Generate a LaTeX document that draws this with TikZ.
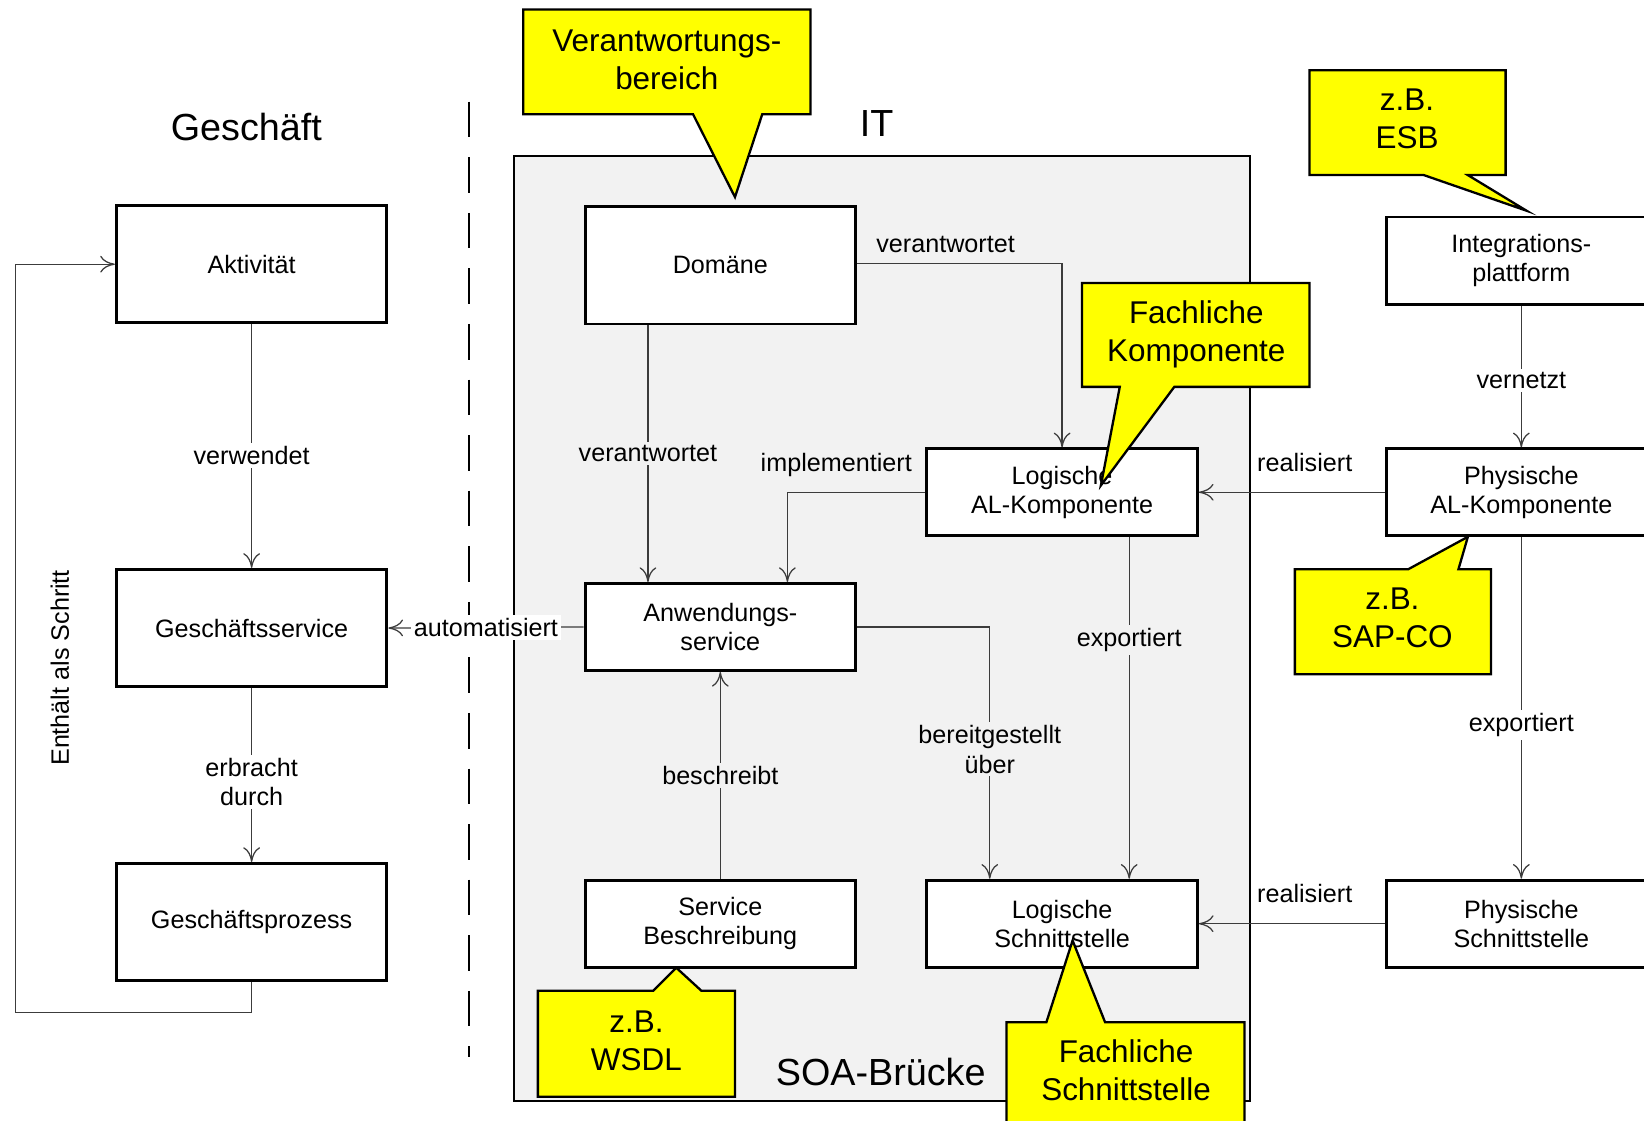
\documentclass[tikz,border=0pt]{standalone}
\usepackage{fontspec}
\setmainfont{Liberation Sans}
\usetikzlibrary{arrows.meta,calc}
\definecolor{calloutyellow}{HTML}{FFFF00}
\definecolor{bridgegray}{HTML}{F2F2F2}
\definecolor{linkgray}{HTML}{3C3C3C}

\begin{document}
\begin{tikzpicture}[x=0.5pt,y=-0.5pt,
  entity/.style={draw=black, line width=1.4pt, fill=white, minimum width=129pt,
    align=center, font=\fontsize{12}{14}\selectfont, inner sep=0pt},
  tall/.style={entity, minimum height=56pt},
  flat/.style={entity, minimum height=41.5pt},
  conn/.style={draw=linkgray, line width=0.6pt,
    -{Computer Modern Rightarrow[length=7pt,width=8pt]}},
  elab/.style={font=\fontsize{12}{14}\selectfont, align=center, inner sep=1.5pt, text=black},
  onwhite/.style={elab, fill=white},
  ongray/.style={elab, fill=bridgegray},
  callout/.style={draw=black, line width=1.1pt, fill=calloutyellow, line join=miter},
  callouttext/.style={font=\fontsize{15}{18}\selectfont, align=center},
  heading/.style={font=\fontsize{18}{21}\selectfont}
]
\useasboundingbox (0,0) rectangle (1568,1069);
\clip (0,0) rectangle (1568,1069);

% SOA bridge area and the business/IT separator
\draw[line width=1pt, fill=bridgegray] (490,149) rectangle (1192,1050);
\draw[line width=1pt, dash pattern=on 17pt off 9.5pt] (447,97) -- (447,1008);

% headings
\node[heading] (tgesch) at (235,121) {Geschäft};
\node[heading] (tit) at (836,118) {IT};
\node[heading] (tsoa) at (840,1022) {SOA-Brücke};

% business side
\node[tall] (akt) at (240,252) {Aktivität};
\node[tall] (gs) at (240,599) {Geschäftsservice};
\node[tall] (gp) at (240,879.5) {Geschäftsprozess};
\node[elab, rotate=90] (schritt) at (57,637) {Enthält als Schritt};

% IT side
\node[tall] (dom) at (687,253) {Domäne};
\node[flat] (anw) at (687,598) {Anwendungs-\\service};
\node[flat] (sb) at (687,881) {Service\\Beschreibung};
\node[flat] (lal) at (1013,469.5) {Logische\\AL-Komponente};
\node[flat] (ls) at (1013,881) {Logische\\Schnittstelle};
\node[flat] (ip) at (1451,248.5) {Integrations-\\plattform};
\node[flat] (pal) at (1451,469.5) {Physische\\AL-Komponente};
\node[flat] (ps) at (1451,881) {Physische\\Schnittstelle};

% relations
\coordinate (loopcorner) at (15,966);
\draw[conn] (akt) -- node[onwhite, pos=0.54] {verwendet} (gs);
\draw[conn] (gs) -- node[onwhite, pos=0.54] {erbracht\\durch} (gp);
\draw[conn] (gp.south) |- (loopcorner) |- (akt.west);

\draw[conn] ($(dom.east)+(0,-2)$) -| node[elab, pos=0.216, above=3pt] {verantwortet} (lal.north);
\draw[conn] ($(dom.south)+(-69,0)$) -- node[ongray] {verantwortet} ($(anw.north)+(-69,0)$);
\draw[conn] (lal.west) -| node[elab, pos=0.323, above=5.5pt] {implementiert} ($(anw.north)+(64,0)$);
\draw[conn] (anw.west) -- node[onwhite] {automatisiert} (gs.east);
\draw[conn] (anw.east) -| node[ongray, pos=0.743] {bereitgestellt\\über} ($(ls.north)+(-69,0)$);
\draw[conn] ($(lal.south)+(64,0)$) -- node[ongray, pos=0.3] {exportiert} ($(ls.north)+(64,0)$);
\draw[conn] (sb) -- node[ongray] {beschreibt} (anw);

\draw[conn] (ip) -- node[onwhite, pos=0.53] {vernetzt} (pal);
\draw[conn] (pal.west) -- node[elab, pos=0.43, above=8pt] {realisiert} (lal.east);
\draw[conn] (pal) -- node[onwhite, pos=0.55] {exportiert} (ps);
\draw[conn] (ps.west) -- node[elab, pos=0.43, above=8pt] {realisiert} (ls.east);

% callouts
\draw[callout] (499,9) -- (773,9) -- (773,109) -- (727,109) -- (701,188)
  -- (661,109) -- (499,109) -- cycle;
\node[callouttext] (cverant) at (636,57) {Verantwortungs-\\bereich};

\draw[callout] (1249,67) -- (1436,67) -- (1436,167) -- (1400,167) -- (1456,201)
  -- (1358,167) -- (1249,167) -- cycle;
\node[callouttext] (cesb) at (1342,113) {z.B.\\ESB};

\draw[callout] (1032,270) -- (1249,270) -- (1249,369) -- (1120,369) -- (1050,463)
  -- (1068,369) -- (1032,369) -- cycle;
\node[callouttext] (ckomp) at (1141,319) {Fachliche\\Komponente};

\draw[callout] (1235,543) -- (1343,543) -- (1400,512) -- (1391,543) -- (1422,543)
  -- (1422,643) -- (1235,643) -- cycle;
\node[callouttext] (csap) at (1328,589) {z.B.\\SAP-CO};

\draw[callout] (513,945) -- (623,945) -- (645,923) -- (669,945) -- (701,945)
  -- (701,1046) -- (513,1046) -- cycle;
\node[callouttext] (cwsdl) at (607,993) {z.B.\\WSDL};

\draw[callout] (960,975) -- (998,975) -- (1023,897) -- (1054,975) -- (1187,975)
  -- (1187,1095) -- (960,1095) -- cycle;
\node[callouttext] (cschn) at (1074,1021) {Fachliche\\Schnittstelle};
\end{tikzpicture}
\end{document}
